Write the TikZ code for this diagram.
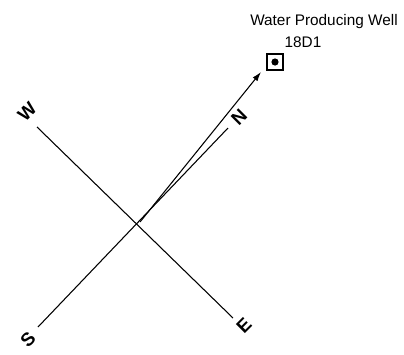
\documentclass[tikz,border=0pt]{standalone}
\usepackage{fontspec}
\setsansfont{Liberation Sans}
\usetikzlibrary{arrows.meta}

\begin{document}
\begin{tikzpicture}[x=0.75pt, y=-0.75pt,
    compassline/.style={draw=black, line width=0.8pt},
    compasslabel/.style={inner sep=0pt, rotate=45, font=\sffamily\bfseries\fontsize{14}{14}\selectfont},
    welltext/.style={inner sep=0pt, font=\sffamily\fontsize{11.5}{11.5}\selectfont}]
  \useasboundingbox (0,0) rectangle (404,354);
  % compass ends
  \coordinate (wend) at (37,127);
  \coordinate (eend) at (233,318);
  \coordinate (send) at (38,327);
  \coordinate (nend) at (228,128);
  \coordinate (origin) at (140,222);
  \coordinate (tip) at (261,72);
  \node[compasslabel] (wlab) at (27,112) {W};
  \node[compasslabel] (nlab) at (239,117) {N};
  \node[compasslabel] (elab) at (244,326) {E};
  \node[compasslabel] (slab) at (28,340) {S};
  \draw[compassline] (wend) -- (eend);
  \draw[compassline] (send) -- (nend);
  % well and bearing
  \node[draw=black, line width=1.5pt, minimum size=12.5pt, inner sep=0pt] (well) at (275,62) {};
  \fill (well.center) circle (3.6);
  \draw[compassline, -{Latex[length=7pt,width=4.5pt]}] (origin) -- (tip);
  \node[welltext] (wellname) at (324,22) {Water Producing Well};
  \node[welltext] (wellid) at (303,42) {18D1};
\end{tikzpicture}
\end{document}
